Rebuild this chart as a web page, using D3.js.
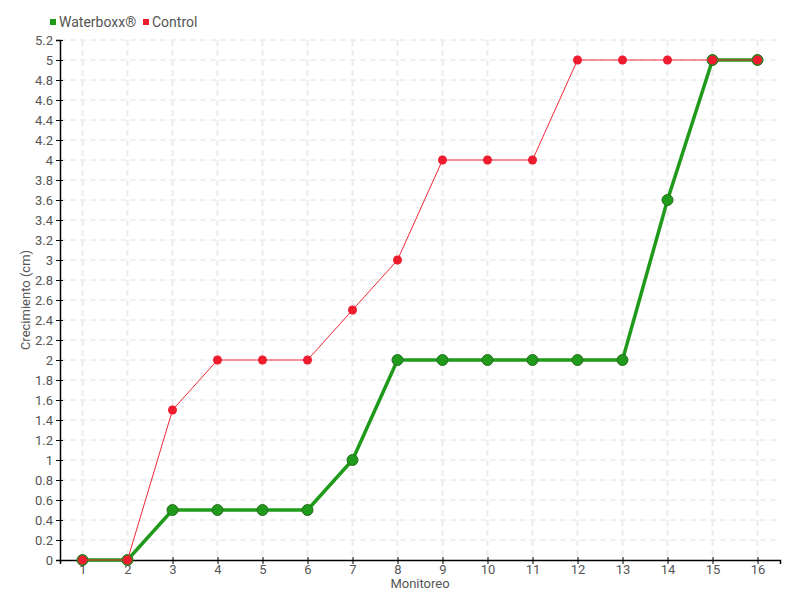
<!DOCTYPE html>
<html>
<head>
<meta charset="utf-8">
<script src="https://cdnjs.cloudflare.com/ajax/libs/d3/7.8.5/d3.min.js"></script>
<style>
  body { margin: 0; background: #fff; }
  text { font-family: Roboto, "Liberation Sans Narrow", sans-serif; fill: #555; }
</style>
</head>
<body>
<script>
var monitoreo = [1, 2, 3, 4, 5, 6, 7, 8, 9, 10, 11, 12, 13, 14, 15, 16];
var waterboxx = [0, 0, 0.5, 0.5, 0.5, 0.5, 1, 2, 2, 2, 2, 2, 2, 3.6, 5, 5];
var control = [0, 0, 1.5, 2, 2, 2, 2.5, 3, 4, 4, 4, 5, 5, 5, 5, 5];
var yTicks = d3.range(0, 27).map(function(i) { return +(i * 0.2).toFixed(1); });

var width = 800, height = 600;
var plotLeft = 60, plotRight = 780, plotTop = 40, plotBottom = 560;

var svg = d3.select("body").append("svg")
    .attr("width", width)
    .attr("height", height);

// scales
var x = d3.scalePoint()
    .domain(monitoreo)
    .range([plotLeft, plotRight])
    .padding(0.5);

var y = d3.scaleLinear()
    .domain([0, 5.2])
    .range([plotBottom, plotTop]);

// grid
svg.append("g").selectAll("line")
    .data(yTicks.slice(1))
    .enter().append("line")
    .attr("x1", plotLeft).attr("x2", plotRight)
    .attr("y1", function(d) { return y(d); })
    .attr("y2", function(d) { return y(d); })
    .attr("stroke", "#e2e2e2")
    .attr("stroke-dasharray", "6,4");

svg.append("g").selectAll("line")
    .data(monitoreo)
    .enter().append("line")
    .attr("x1", function(d) { return x(d); })
    .attr("x2", function(d) { return x(d); })
    .attr("y1", plotTop).attr("y2", plotBottom)
    .attr("stroke", "#ececec")
    .attr("stroke-width", 2)
    .attr("stroke-dasharray", "6,4");

// axes
var yAxis = svg.append("g")
    .attr("transform", "translate(" + plotLeft + ",0)")
    .call(d3.axisLeft(y).tickValues(yTicks).tickSize(4).tickPadding(3)
        .tickFormat(function(d) { return String(+d.toFixed(1)); }));
yAxis.selectAll(".tick line").attr("x2", -4).attr("x1", 3);

var xAxis = svg.append("g")
    .attr("transform", "translate(0," + plotBottom + ")")
    .call(d3.axisBottom(x).tickSize(4).tickPadding(1));
xAxis.selectAll(".tick line").attr("y1", -3).attr("y2", 4);

svg.selectAll(".domain").attr("stroke", "#000").attr("stroke-width", 1.5);
svg.selectAll(".tick line").attr("stroke", "#000");
svg.selectAll(".tick text")
    .attr("font-size", 13)
    .attr("font-family", "Roboto, sans-serif")
    .attr("fill", "#555");

// axis titles
svg.append("text")
    .attr("x", (plotLeft + plotRight) / 2)
    .attr("y", 588)
    .attr("text-anchor", "middle")
    .attr("font-size", 13)
    .text("Monitoreo");

svg.append("text")
    .attr("transform", "translate(30," + (plotTop + plotBottom) / 2 + ") rotate(-90)")
    .attr("text-anchor", "middle")
    .attr("font-size", 13)
    .text("Crecimiento (cm)");

// lines
var line = d3.line()
    .x(function(d, i) { return x(monitoreo[i]); })
    .y(function(d) { return y(d); });

svg.append("path")
    .datum(waterboxx)
    .attr("d", line)
    .attr("fill", "none")
    .attr("stroke", "#1f9a1a")
    .attr("stroke-width", 3.5);

svg.append("g").selectAll("circle")
    .data(waterboxx)
    .enter().append("circle")
    .attr("cx", function(d, i) { return x(monitoreo[i]); })
    .attr("cy", function(d) { return y(d); })
    .attr("r", 5.5)
    .attr("fill", "#1f9a1a")
    .attr("stroke", "#2a6e20")
    .attr("stroke-width", 1);

svg.append("path")
    .datum(control)
    .attr("d", line)
    .attr("fill", "none")
    .attr("stroke", "#f0283a")
    .attr("stroke-width", 1);

svg.append("g").selectAll("circle")
    .data(control)
    .enter().append("circle")
    .attr("cx", function(d, i) { return x(monitoreo[i]); })
    .attr("cy", function(d) { return y(d); })
    .attr("r", 4.5)
    .attr("fill", "#ee1c2e");

// legend
var legend = svg.append("g").attr("transform", "translate(50,22)");
var items = [{name: "Waterboxx®", color: "#1f9a1a"}, {name: "Control", color: "#ee1c2e"}];
var offs = [0, 93];
items.forEach(function(it, i) {
    var g = legend.append("g").attr("transform", "translate(" + offs[i] + ",0)");
    g.append("rect").attr("x", 0).attr("y", -3).attr("width", 6).attr("height", 6).attr("fill", it.color);
    g.append("text").attr("x", 9).attr("y", 5).attr("font-size", 14).text(it.name);
});
</script>
</body>
</html>
